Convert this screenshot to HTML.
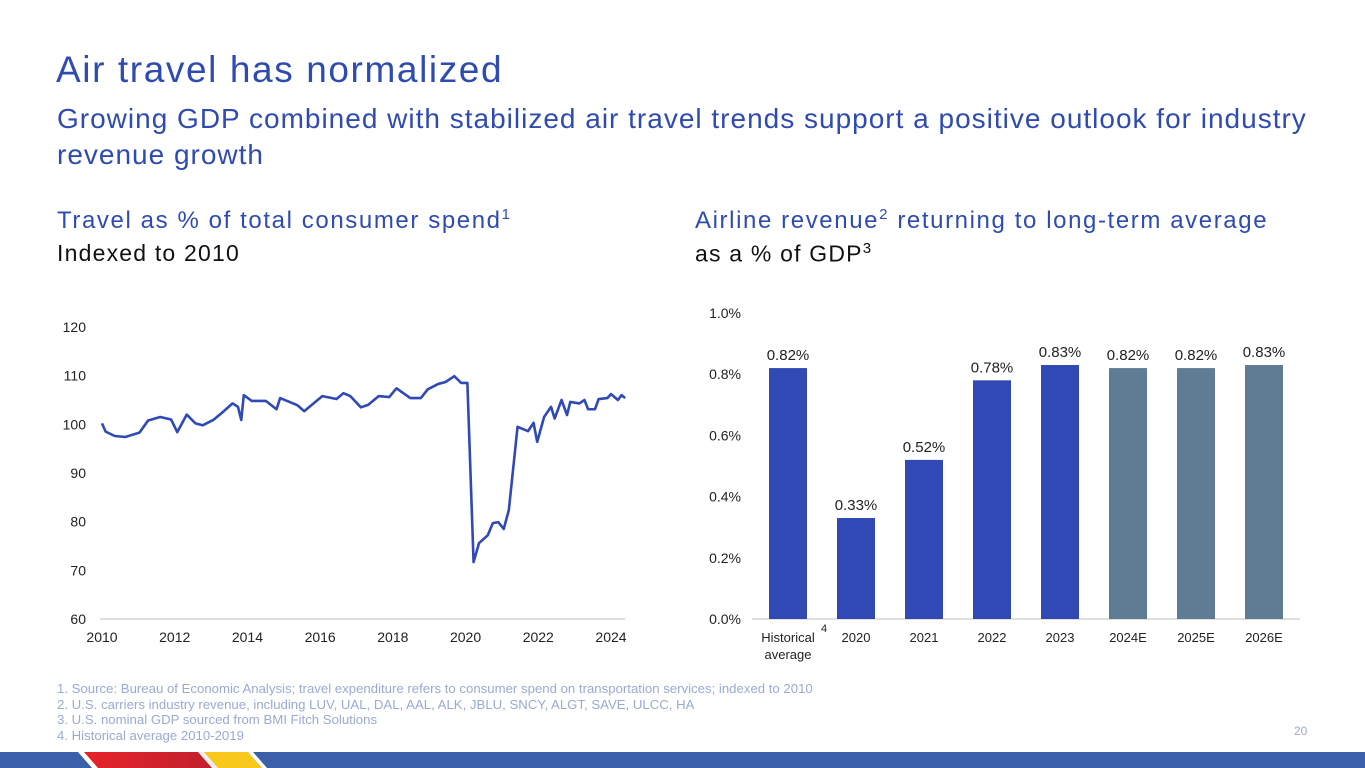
<!DOCTYPE html>
<html><head><meta charset="utf-8"><style>
body{margin:0;width:1365px;height:768px;overflow:hidden;background:#fff;font-family:"Liberation Sans",sans-serif;position:relative}
.a{position:absolute;white-space:nowrap}
</style></head><body>
<div class="a" style="left:56px;top:49px;font-size:37px;color:#2f4bb0;letter-spacing:1.6px">Air travel has normalized</div>
<div class="a" style="left:57px;top:101px;font-size:28px;line-height:36px;color:#2f4bb0;white-space:normal;width:1285px;letter-spacing:1px">Growing GDP combined with stabilized air travel trends support a positive outlook for industry revenue growth</div>
<div class="a" style="left:57px;top:206px;font-size:24px;color:#2f4bb0;letter-spacing:1.6px">Travel as % of total consumer spend<sup style="font-size:15px">1</sup></div>
<div class="a" style="left:57px;top:240px;font-size:23px;color:#111;letter-spacing:1.2px">Indexed to 2010</div>
<div class="a" style="left:695px;top:206px;font-size:24px;color:#2f4bb0;letter-spacing:1.6px">Airline revenue<sup style="font-size:15px">2</sup> returning to long-term average</div>
<div class="a" style="left:695px;top:240px;font-size:23px;color:#111;letter-spacing:1.2px">as a % of GDP<sup style="font-size:15px">3</sup></div>
<svg class="a" style="left:0;top:0" width="1365" height="768">
<g id="lc"></g><g id="bc"></g>
</svg>
<div class="a" style="left:57px;top:681px;font-size:13.2px;line-height:15.5px;color:#9aaad0">1. Source: Bureau of Economic Analysis; travel expenditure refers to consumer spend on transportation services; indexed to 2010<br>2. U.S. carriers industry revenue, including LUV, UAL, DAL, AAL, ALK, JBLU, SNCY, ALGT, SAVE, ULCC, HA<br>3. U.S. nominal GDP sourced from BMI Fitch Solutions<br>4. Historical average 2010-2019</div>
<div class="a" style="left:1294px;top:724px;font-size:12px;color:#9aaad0">20</div>
<svg class="a" style="left:0;top:752px" width="1365" height="16">
<defs><linearGradient id="rg" x1="0" x2="1"><stop offset="0" stop-color="#e8232a"/><stop offset="1" stop-color="#c0202e"/></linearGradient></defs>
<rect x="0" y="0" width="1365" height="16" fill="#3b5fa8"/>
<polygon points="80,0 200,0 214,16 94,16" fill="url(#rg)"/>
<polygon points="200,0 248,0 262,16 214,16" fill="#f8c81c"/>
<polygon points="78,0 84,0 98,16 92,16" fill="#fff"/>
<polygon points="198,0 204,0 218,16 212,16" fill="#eee"/>
<polygon points="248,0 253,0 267,16 262,16" fill="#fff"/>
</svg>
<script>
const lineYears=[2010.0,2010.1,2010.35,2010.64,2011.03,2011.27,2011.6,2011.9,2012.07,2012.33,2012.57,2012.77,2013.06,2013.35,2013.59,2013.74,2013.83,2013.9,2014.12,2014.51,2014.8,2014.9,2015.38,2015.56,2015.77,2016.06,2016.45,2016.64,2016.83,2017.12,2017.32,2017.61,2017.9,2018.1,2018.29,2018.48,2018.77,2018.96,2019.25,2019.45,2019.69,2019.88,2020.05,2020.22,2020.37,2020.61,2020.75,2020.9,2021.05,2021.19,2021.43,2021.72,2021.87,2021.97,2022.16,2022.35,2022.45,2022.64,2022.79,2022.88,2023.13,2023.27,2023.37,2023.56,2023.66,2023.9,2024.0,2024.19,2024.29,2024.39];
const lineValues=[100.2,98.5,97.6,97.4,98.3,100.8,101.5,101,98.4,102,100.2,99.8,100.9,102.7,104.3,103.6,100.9,106,104.8,104.8,103.1,105.4,103.9,102.7,104,105.8,105.2,106.4,105.8,103.5,104,105.8,105.6,107.4,106.4,105.4,105.4,107.2,108.3,108.7,109.9,108.5,108.5,71.7,75.6,77.2,79.7,79.9,78.5,82.4,99.5,98.6,100.3,96.4,101.5,103.6,101.2,105,101.9,104.6,104.3,105,103.1,103.1,105.2,105.4,106.2,105,106,105.4];
const yTicks=[60,70,80,90,100,110,120];
const xTicks=[2010,2012,2014,2016,2018,2020,2022,2024];
const barCats=["Historical average","2020","2021","2022","2023","2024E","2025E","2026E"];
const barValues=[0.82,0.33,0.52,0.78,0.83,0.82,0.82,0.83];
const barLabels=["0.82%","0.33%","0.52%","0.78%","0.83%","0.82%","0.82%","0.83%"];
const barEstimate=[false,false,false,false,false,true,true,true];
const barTicks=[0,0.2,0.4,0.6,0.8,1.0];
const barTickLabels=["0.0%","0.2%","0.4%","0.6%","0.8%","1.0%"];
const NS="http://www.w3.org/2000/svg";
function mk(p,t,a){const e=document.createElementNS(NS,t);for(const k in a)e.setAttribute(k,a[k]);p.appendChild(e);return e;}
const lx=v=>102+(v-2010)*(611-102)/14, ly=v=>619-(v-60)*(619-327)/60;
const lc=document.getElementById('lc');
let ax=mk(lc,'line',{x1:100,x2:625,y1:619,y2:619,stroke:'#bfbfbf','stroke-width':1});


yTicks.forEach(t=>{const e=mk(lc,'text',{x:86,y:ly(t)+5,'text-anchor':'end','font-size':14,fill:'#222'});e.textContent=t;

});
xTicks.forEach(t=>{const e=mk(lc,'text',{x:lx(t),y:642,'text-anchor':'middle','font-size':14,fill:'#222'});e.textContent=t;

});
const pl=mk(lc,'polyline',{points:lineYears.map((y,i)=>lx(y)+','+ly(lineValues[i])).join(' '),fill:'none',stroke:'#3049b5','stroke-width':2.6,'stroke-linejoin':'round'});


const by=v=>619-v*306, bc=document.getElementById('bc');
barTicks.forEach((t,i)=>{const e=mk(bc,'text',{x:741,y:by(t)+5,'text-anchor':'end','font-size':14,fill:'#222'});e.textContent=barTickLabels[i];

});
const bl=mk(bc,'line',{x1:752,x2:1300,y1:619,y2:619,stroke:'#bfbfbf','stroke-width':1});


barCats.forEach((c,i)=>{const cx=788+i*68;
const r=mk(bc,'rect',{x:cx-19,y:by(barValues[i]),width:38,height:barValues[i]*306,fill:barEstimate[i]?'#5e7d95':'#3049b5'});


const l=mk(bc,'text',{x:cx,y:by(barValues[i])-8,'text-anchor':'middle','font-size':15,fill:'#222'});l.textContent=barLabels[i];


const words=i==0?["Historical","average"]:[c];
words.forEach((w,j)=>{const t=mk(bc,'text',{x:cx,y:642+j*17,'text-anchor':'middle','font-size':13,fill:'#222'});t.textContent=w;

});
});
const sup=mk(bc,'text',{x:821,y:632,'font-size':11,fill:'#222'});sup.textContent='4';


</script>
</body></html>
